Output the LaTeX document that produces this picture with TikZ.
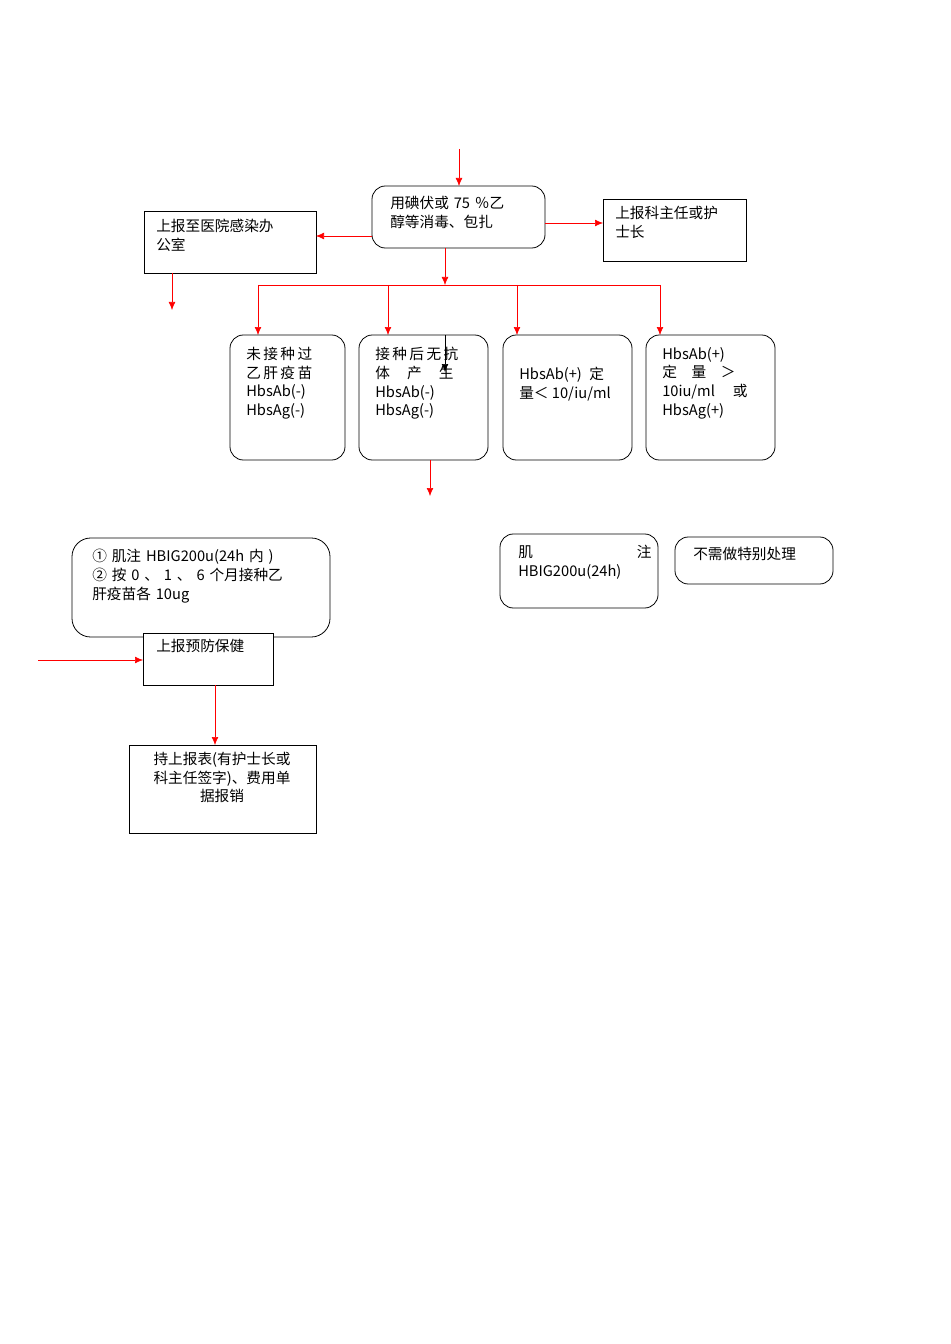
\documentclass[tikz,border=0pt]{standalone}
\usepackage{fontspec}
\setmainfont{Liberation Serif}
\newfontfamily\cjk{Noto Sans CJK SC}
\usetikzlibrary{arrows.meta}
\begin{document}
\begin{tikzpicture}[x=0.75pt,y=-0.75pt,
  ra/.style={draw=red,-{Latex[length=6pt,width=5pt]}},
  rl/.style={draw=red},
  bx/.style={draw,line width=0.6pt},
  rbx/.style={draw,line width=0.6pt,rounded corners=10pt},
  tx/.style={anchor=north west,align=left,font=\cjk\fontsize{11}{14}\selectfont,inner sep=0pt}]
\useasboundingbox (0,0) rectangle (950,1344);
\draw[rbx] (372,186) rectangle (545,248); \coordinate (A) at (459,186);
\node[tx,text width=140pt] (ta) at (390,196) {用碘伏或 75 ％乙\\醇等消毒、包扎};
\draw[bx] (144,211) rectangle (316,273);
\node[tx,text width=120pt] (tb) at (156,219) {上报至医院感染办\\公室};
\draw[bx] (603,199) rectangle (746,261);
\node[tx,text width=100pt] (tc) at (615,206) {上报科主任或护\\士长};
\coordinate (t0) at (459,149);
\draw[ra] (t0) -- (A);
\draw[ra] (372,236) -- (316,236);
\draw[ra] (172,273) -- (172,310);
\draw[ra] (545,223) -- (603,223);
\draw[ra] (445,248) -- (445,285);
\draw[rl] (258,285) -- (660,285);
\foreach \x in {258,388,517,660} \draw[ra] (\x,285) -- (\x,335);
\draw[rbx] (230,335) rectangle (345,460);
\draw[rbx] (359,335) rectangle (488,460);
\draw[rbx] (503,335) rectangle (632,460);
\draw[rbx] (646,335) rectangle (775,460);
\node[tx] (t1) at (246,347) {未\,接\,种\,过\\乙\,肝\,疫\,苗\\HbsAb(-)\\HbsAg(-)};
\node[tx] (t2) at (375,347) {接\,种\,后\,无\,抗\\体\quad\,产\quad\,生\\HbsAb(-)\\HbsAg(-)};
\node[tx] (t3) at (519,367) {HbsAb(+)\enspace 定\\量＜ 10/iu/ml};
\node[tx] (t4) at (662,347) {HbsAb(+)\\定\quad 量\quad ＞\\10iu/ml\quad\ 或\\HbsAg(+)};
\draw[-{Latex[length=6pt,width=5pt]}] (445,335) -- (445,372);
\draw[ra] (430,460) -- (430,496);
\draw[rbx,rounded corners=14pt] (72,538) rectangle (330,637);
\node[tx,text width=180pt] (td) at (92,549) {① 肌注 HBIG200u(24h 内 )\\② 按 0 、 1 、 6 个月接种乙\\肝疫苗各 10ug};
\draw[bx,fill=white] (143,633) rectangle (273,685);
\node[tx] (te) at (156,639) {上报预防保健};
\draw[ra] (38,660) -- (143,660);
\draw[ra] (215,685) -- (215,745);
\draw[bx] (129,745) rectangle (316,833);
\node[tx,anchor=north,align=center] (tf) at (222,752) {持上报表(有护士长或\\科主任签字)、费用单\\据报销};
\draw[rbx] (500,534) rectangle (658,608);
\node[tx] (tg) at (518,545) {肌\hspace{78pt}注\\HBIG200u(24h)};
\draw[rbx] (675,537) rectangle (833,584);
\node[tx] (th) at (693,547) {不需做特别处理};
\end{tikzpicture}
\end{document}
